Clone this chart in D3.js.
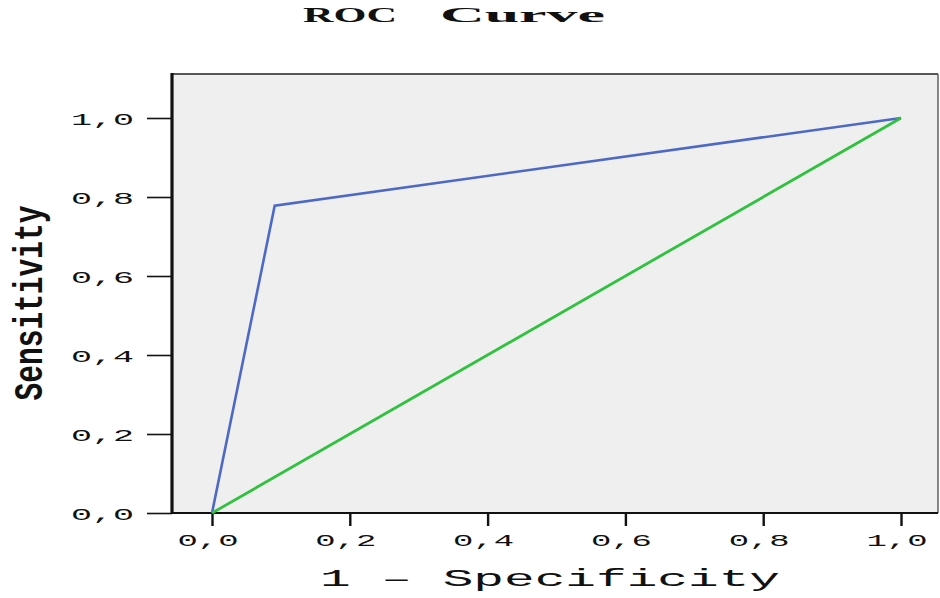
<!DOCTYPE html>
<html>
<head>
<meta charset="utf-8">
<script src="https://cdn.jsdelivr.net/npm/d3@7"></script>
<style>
  html, body { margin: 0; padding: 0; background: #ffffff; }
  svg { display: block; }
</style>
</head>
<body>
<svg id="chart" width="940" height="598"></svg>
<script>
// ROC curve: false positive rate (1 - specificity) vs. sensitivity
const rocFpr = [0.0, 0.091, 1.0];
const rocTpr = [0.0, 0.778, 1.0];
// Reference (chance) diagonal
const refFpr = [0.0, 1.0];
const refTpr = [0.0, 1.0];
const tickValues = [0.0, 0.2, 0.4, 0.6, 0.8, 1.0];
const tickLabels = ["0,0", "0,2", "0,4", "0,6", "0,8", "1,0"];
const titleWords = ["ROC", "Curve"];
const xTitle = "1 \u2013 Specificity";
const yTitle = "Sensitivity";

const svg = d3.select("#chart");
const frame = { left: 172, right: 938, top: 74, bottom: 513 };

const x = d3.scaleLinear().domain([0, 1]).range([212, 901]);
const y = d3.scaleLinear().domain([0, 1]).range([513, 118]);

// plot background
svg.append("rect")
  .attr("x", frame.left).attr("y", frame.top)
  .attr("width", frame.right - frame.left)
  .attr("height", frame.bottom - frame.top)
  .attr("fill", "#efefef");

// frame edges
svg.append("line").attr("x1", frame.left).attr("x2", frame.right)
  .attr("y1", frame.top).attr("y2", frame.top)
  .attr("stroke", "#222").attr("stroke-width", 1.6);
svg.append("line").attr("x1", frame.right).attr("x2", frame.right)
  .attr("y1", frame.top).attr("y2", frame.bottom)
  .attr("stroke", "#555").attr("stroke-width", 1.4);

const monoFont = "'Liberation Mono', 'DejaVu Sans Mono', monospace";

// bottom axis
const xAxis = d3.axisBottom(x)
  .tickValues(tickValues)
  .tickSize(13)
  .tickFormat("");
const gx = svg.append("g")
  .attr("transform", `translate(0,${frame.bottom})`)
  .call(xAxis);
gx.select(".domain").remove();
gx.selectAll(".tick line").attr("stroke", "#111").attr("stroke-width", 2.4);
svg.append("line").attr("x1", frame.left).attr("x2", frame.right)
  .attr("y1", frame.bottom).attr("y2", frame.bottom)
  .attr("stroke", "#111").attr("stroke-width", 2.2);

svg.append("g").selectAll("text")
  .data(tickValues)
  .join("text")
  .attr("x", d => x(d) - 4)
  .attr("y", 546)
  .attr("text-anchor", "middle")
  .attr("font-family", monoFont)
  .attr("font-size", 17)
  .attr("textLength", 61)
  .attr("lengthAdjust", "spacingAndGlyphs")
  .attr("fill", "#111")
  .text((d, i) => tickLabels[i]);

// left axis
const yAxis = d3.axisLeft(y)
  .tickValues(tickValues)
  .tickSize(25)
  .tickFormat("");
const gy = svg.append("g")
  .attr("transform", `translate(${frame.left},0)`)
  .call(yAxis);
gy.select(".domain").remove();
gy.selectAll(".tick line").attr("stroke", "#111").attr("stroke-width", 1.6);
svg.append("line").attr("x1", frame.left).attr("x2", frame.left)
  .attr("y1", frame.top - 1).attr("y2", frame.bottom)
  .attr("stroke", "#111").attr("stroke-width", 3.2);

svg.append("g").selectAll("text")
  .data(tickValues)
  .join("text")
  .attr("x", 134)
  .attr("y", d => y(d) + 7)
  .attr("text-anchor", "end")
  .attr("font-family", monoFont)
  .attr("font-size", 17)
  .attr("textLength", 63)
  .attr("lengthAdjust", "spacingAndGlyphs")
  .attr("fill", "#111")
  .text((d, i) => tickLabels[i]);

// curves
const line = d3.line().x(d => x(d[0])).y(d => y(d[1]));
const refPts = d3.zip(refFpr, refTpr);
const rocPts = d3.zip(rocFpr, rocTpr);

svg.append("path")
  .datum(rocPts)
  .attr("d", line)
  .attr("fill", "none")
  .attr("stroke", "#4e69c4")
  .attr("stroke-width", 2.6)
  .attr("stroke-linejoin", "miter");

svg.append("path")
  .datum(refPts)
  .attr("d", line)
  .attr("fill", "none")
  .attr("stroke", "#2fc23e")
  .attr("stroke-width", 2.8);

// title
const titleSpans = [[303, 94], [440, 165]];
svg.append("g").selectAll("text")
  .data(titleWords)
  .join("text")
  .attr("x", (d, i) => titleSpans[i][0])
  .attr("y", 22)
  .attr("font-family", "'Liberation Serif', 'DejaVu Serif', serif")
  .attr("font-weight", "bold")
  .attr("font-size", 20)
  .attr("textLength", (d, i) => titleSpans[i][1])
  .attr("lengthAdjust", "spacingAndGlyphs")
  .attr("fill", "#111")
  .text(d => d);

// x axis title
svg.append("text")
  .attr("x", 320)
  .attr("y", 586)
  .attr("font-family", monoFont)
  .attr("font-size", 23)
  .attr("textLength", 460)
  .attr("lengthAdjust", "spacingAndGlyphs")
  .attr("fill", "#111")
  .text(xTitle);

// y axis title
svg.append("text")
  .attr("transform", "translate(42,303) scale(1.7,1) rotate(-90)")
  .attr("text-anchor", "middle")
  .attr("font-family", monoFont)
  .attr("font-weight", "bold")
  .attr("font-size", 24)
  .attr("textLength", 195)
  .attr("lengthAdjust", "spacingAndGlyphs")
  .attr("fill", "#111")
  .text(yTitle);
</script>
</body>
</html>
